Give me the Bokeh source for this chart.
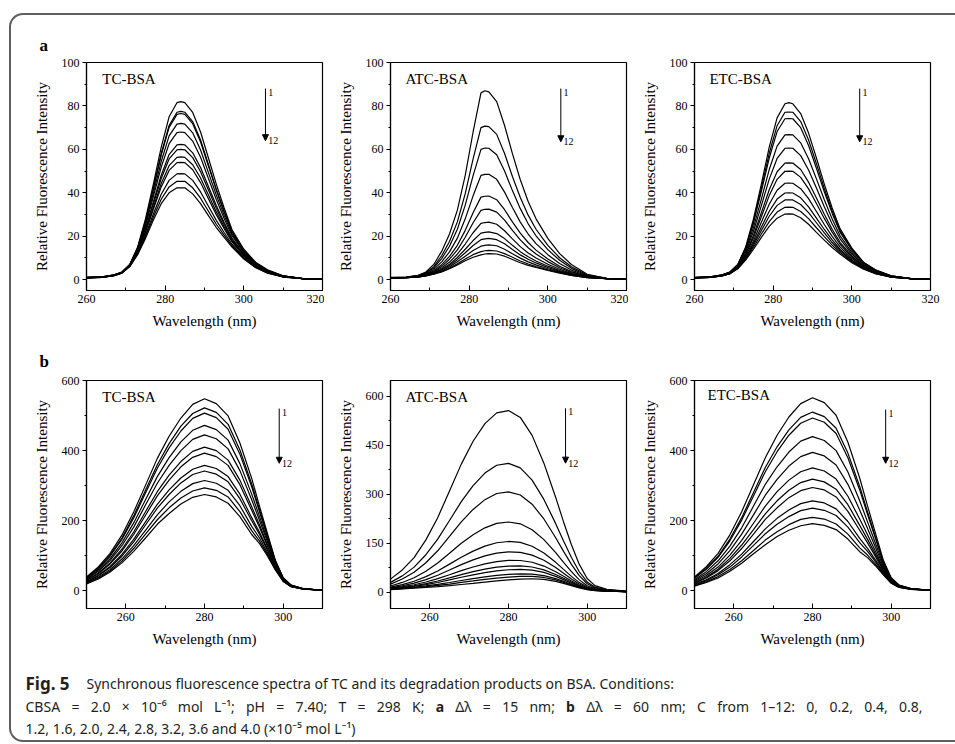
from bokeh.plotting import figure
from bokeh.models import Range1d, FixedTicker, Label, Arrow, NormalHead
from bokeh.layouts import row, column
from bokeh.embed import file_html
from bokeh.resources import INLINE
from bokeh.core.properties import value

# ---------------- data ----------------
WL_A = [260, 264, 267, 269, 271, 273, 275, 277, 279, 281, 283, 284, 285, 287, 289,
        291, 293, 295, 297, 300, 303, 306, 310, 315, 320]
WL_B = [250, 253, 256, 259, 262, 265, 268, 271, 274, 277, 280, 283, 286, 289, 292,
        294, 296, 298, 300, 302, 305, 310]

TC_A = [
    [1.0, 1.3, 2.2, 3.5, 7.0, 15.0, 28.0, 44.0, 61.0, 75.0, 81.5, 82.0, 81.5, 77.0, 68.0, 56.0, 44.0, 33.0, 23.0, 14.0, 8.0, 4.5, 1.8, 0.5, 0.3],
    [1.0, 1.3, 2.2, 3.4, 6.9, 14.6, 27.0, 42.1, 58.1, 71.0, 77.1, 77.5, 77.1, 72.8, 64.3, 53.0, 41.7, 31.5, 22.1, 13.5, 7.7, 4.3, 1.7, 0.5, 0.3],
    [1.0, 1.3, 2.1, 3.4, 6.9, 14.5, 26.7, 41.7, 57.4, 70.1, 76.1, 76.5, 76.1, 71.8, 63.4, 52.3, 41.2, 31.1, 21.9, 13.4, 7.7, 4.3, 1.7, 0.5, 0.3],
    [0.95, 1.2, 2.1, 3.4, 6.7, 14.1, 25.7, 39.8, 54.4, 66.2, 71.6, 72.0, 71.6, 67.6, 59.7, 49.3, 39.0, 29.6, 21.0, 12.9, 7.4, 4.1, 1.6, 0.5, 0.3],
    [0.9, 1.2, 2.1, 3.3, 6.6, 13.8, 24.8, 38.2, 51.8, 62.6, 67.7, 68.0, 67.7, 63.8, 56.4, 46.6, 36.9, 28.2, 20.2, 12.4, 7.1, 4.0, 1.6, 0.5, 0.3],
    [0.9, 1.15, 2.0, 3.25, 6.5, 13.3, 23.5, 35.8, 48.1, 57.6, 62.1, 62.3, 62.1, 58.4, 51.6, 42.9, 34.1, 26.3, 19.0, 11.8, 6.8, 3.8, 1.5, 0.45, 0.3],
    [0.9, 1.1, 2.0, 3.2, 6.4, 13.1, 23.0, 34.9, 46.6, 55.6, 59.8, 60.0, 59.8, 56.2, 49.7, 41.3, 32.9, 25.5, 18.6, 11.5, 6.6, 3.7, 1.5, 0.45, 0.3],
    [0.87, 1.1, 1.95, 3.2, 6.4, 12.8, 22.2, 33.4, 44.3, 52.5, 56.3, 56.5, 56.3, 52.9, 46.8, 39.0, 31.2, 24.3, 17.9, 11.1, 6.4, 3.5, 1.4, 0.4, 0.3],
    [0.86, 1.1, 1.9, 3.15, 6.3, 12.5, 21.7, 32.4, 42.7, 50.3, 53.9, 54.0, 53.9, 50.6, 44.7, 37.3, 29.9, 23.5, 17.4, 10.8, 6.2, 3.4, 1.4, 0.4, 0.3],
    [0.83, 1.05, 1.87, 3.1, 6.2, 12.1, 20.5, 30.2, 39.3, 45.7, 48.7, 48.8, 48.7, 45.7, 40.4, 33.8, 27.3, 21.7, 16.3, 10.2, 5.9, 3.2, 1.3, 0.4, 0.3],
    [0.8, 1.0, 1.8, 3.0, 6.1, 11.8, 19.7, 28.8, 37.0, 42.7, 45.3, 45.3, 45.3, 42.3, 37.5, 31.5, 25.5, 20.5, 15.6, 9.8, 5.7, 3.1, 1.25, 0.4, 0.3],
    [0.8, 1.0, 1.8, 3.0, 6.0, 11.5, 19.0, 27.5, 35.0, 40.0, 42.3, 42.3, 42.3, 39.5, 35.0, 29.5, 24.0, 19.5, 15.0, 9.5, 5.5, 3.0, 1.2, 0.4, 0.3],
]
ATC_A = [
    [1.0, 1.2, 2.0, 3.5, 7.0, 13.0, 21.0, 32.0, 48.0, 68.0, 86.0, 87.0, 86.5, 82.0, 71.0, 58.0, 46.0, 36.0, 28.0, 19.0, 12.0, 7.0, 2.5, 0.6, 0.3],
    [0.94, 1.14, 1.83, 3.1, 6.0, 11.0, 17.6, 26.6, 39.6, 55.6, 70.0, 70.7, 70.5, 66.9, 58.1, 47.5, 37.8, 29.7, 23.2, 15.8, 10.1, 5.9, 2.2, 0.55, 0.3],
    [0.9, 1.1, 1.7, 2.9, 5.4, 9.7, 15.4, 23.2, 34.3, 47.9, 60.0, 60.6, 60.5, 57.5, 50.0, 41.0, 32.7, 25.7, 20.2, 13.8, 8.9, 5.2, 1.9, 0.5, 0.3],
    [0.85, 1.05, 1.6, 2.6, 4.7, 8.2, 12.8, 19.1, 28.0, 38.6, 48.0, 48.5, 48.5, 46.2, 40.3, 33.2, 26.5, 21.0, 16.6, 11.5, 7.4, 4.4, 1.7, 0.5, 0.3],
    [0.8, 1.0, 1.5, 2.3, 4.1, 6.9, 10.7, 15.8, 22.7, 30.8, 38.0, 38.4, 38.5, 36.8, 32.2, 26.6, 21.4, 17.1, 13.6, 9.5, 6.2, 3.7, 1.5, 0.45, 0.3],
    [0.78, 0.98, 1.4, 2.2, 3.7, 6.1, 9.4, 13.7, 19.5, 26.2, 31.9, 32.4, 32.5, 31.1, 27.4, 22.7, 18.3, 14.7, 11.8, 8.3, 5.5, 3.3, 1.3, 0.45, 0.3],
    [0.76, 0.96, 1.35, 2.05, 3.4, 5.4, 8.1, 11.7, 16.4, 21.6, 25.9, 26.3, 26.5, 25.5, 22.5, 18.8, 15.2, 12.3, 10.0, 7.1, 4.8, 2.9, 1.2, 0.4, 0.3],
    [0.74, 0.94, 1.3, 1.95, 3.1, 4.8, 7.1, 10.2, 14.0, 18.0, 21.4, 21.8, 22.0, 21.2, 18.9, 15.8, 12.9, 10.5, 8.6, 6.2, 4.2, 2.6, 1.1, 0.4, 0.3],
    [0.73, 0.93, 1.28, 1.87, 2.9, 4.4, 6.5, 9.2, 12.4, 15.7, 18.4, 18.8, 19.0, 18.4, 16.5, 13.9, 11.4, 9.4, 7.7, 5.6, 3.8, 2.4, 1.05, 0.4, 0.3],
    [0.72, 0.92, 1.24, 1.8, 2.74, 4.0, 5.9, 8.2, 10.8, 13.4, 15.4, 15.8, 16.0, 15.6, 14.0, 11.9, 9.9, 8.2, 6.8, 5.0, 3.5, 2.2, 1.0, 0.4, 0.3],
    [0.7, 0.9, 1.22, 1.74, 2.6, 3.7, 5.3, 7.3, 9.5, 11.5, 12.9, 13.3, 13.5, 13.2, 12.0, 10.3, 8.6, 7.2, 6.0, 4.5, 3.2, 2.0, 0.93, 0.4, 0.3],
    [0.7, 0.9, 1.2, 1.7, 2.5, 3.5, 5.0, 6.8, 8.7, 10.3, 11.4, 11.8, 12.0, 11.8, 10.8, 9.3, 7.8, 6.6, 5.6, 4.2, 3.0, 1.9, 0.9, 0.4, 0.3],
]
ETC_A = [
    [1.0, 1.3, 2.2, 3.5, 7.0, 15.0, 28.0, 44.0, 61.0, 74.5, 81.0, 81.5, 81.0, 76.5, 67.5, 56.0, 44.0, 33.0, 23.5, 14.5, 8.0, 4.5, 1.8, 0.5, 0.3],
    [0.98, 1.28, 2.16, 3.44, 6.85, 14.5, 26.9, 42.1, 58.2, 70.9, 77.1, 77.2, 77.1, 72.8, 64.3, 53.4, 42.0, 31.6, 22.6, 14.0, 7.8, 4.4, 1.75, 0.5, 0.3],
    [0.97, 1.26, 2.13, 3.4, 6.7, 14.2, 26.1, 40.7, 56.0, 68.2, 74.1, 74.2, 74.1, 70.0, 61.8, 51.3, 40.5, 30.5, 21.9, 13.6, 7.6, 4.3, 1.7, 0.5, 0.3],
    [0.94, 1.22, 2.06, 3.28, 6.44, 13.3, 24.1, 37.1, 50.7, 61.5, 66.7, 66.8, 66.7, 63.0, 55.7, 46.4, 36.8, 27.9, 20.2, 12.6, 7.1, 4.0, 1.6, 0.47, 0.3],
    [0.92, 1.18, 2.0, 3.18, 6.2, 12.6, 22.3, 34.1, 46.3, 55.8, 60.5, 60.6, 60.5, 57.1, 50.5, 42.2, 33.6, 25.6, 18.8, 11.8, 6.7, 3.8, 1.5, 0.46, 0.3],
    [0.9, 1.14, 1.93, 3.07, 5.9, 11.8, 20.5, 30.8, 41.4, 49.7, 53.7, 53.8, 53.7, 50.7, 44.9, 37.6, 30.1, 23.2, 17.2, 10.9, 6.3, 3.5, 1.4, 0.45, 0.3],
    [0.88, 1.12, 1.9, 3.0, 5.8, 11.3, 19.4, 29.0, 38.7, 46.2, 49.9, 50.0, 49.9, 47.1, 41.8, 35.1, 28.2, 21.9, 16.3, 10.4, 6.0, 3.4, 1.4, 0.44, 0.3],
    [0.86, 1.08, 1.84, 2.9, 5.6, 10.7, 17.9, 26.4, 34.7, 41.2, 44.4, 44.5, 44.4, 41.9, 37.3, 31.4, 25.4, 19.9, 15.1, 9.7, 5.7, 3.2, 1.3, 0.43, 0.3],
    [0.84, 1.06, 1.8, 2.85, 5.4, 10.1, 16.7, 24.2, 31.5, 37.1, 39.9, 40.0, 39.9, 37.7, 33.5, 28.3, 23.1, 18.3, 14.0, 9.1, 5.4, 3.0, 1.2, 0.42, 0.3],
    [0.83, 1.04, 1.76, 2.8, 5.3, 9.8, 15.8, 22.6, 29.2, 34.2, 36.7, 36.8, 36.7, 34.6, 30.9, 26.2, 21.5, 17.1, 13.3, 8.7, 5.2, 2.9, 1.2, 0.41, 0.3],
    [0.81, 1.02, 1.73, 2.75, 5.1, 9.4, 14.9, 21.0, 26.7, 31.1, 33.3, 33.4, 33.3, 31.4, 28.1, 23.9, 19.8, 15.9, 12.5, 8.2, 5.0, 2.8, 1.15, 0.4, 0.3],
    [0.8, 1.0, 1.7, 2.7, 5.0, 9.0, 14.0, 19.5, 24.5, 28.3, 30.2, 30.3, 30.2, 28.5, 25.5, 21.8, 18.2, 14.8, 11.8, 7.8, 4.8, 2.7, 1.1, 0.4, 0.3],
]
TC_B = [
    [40, 68.5, 107, 159, 225, 301, 378, 441, 493, 532, 548, 534, 499, 422, 321, 241, 164, 88, 38, 17, 7, 2],
    [38, 65, 102, 151, 214, 287, 360, 420, 470, 506, 522, 509, 475, 402, 305, 231, 158, 86, 37, 16.5, 6.9, 2],
    [37, 63, 99, 147, 208, 279, 350, 408, 456, 492, 507, 494, 461, 390, 297, 225, 154, 84, 36, 16, 6.8, 2],
    [34, 59, 92, 137, 194, 260, 326, 380, 425, 458, 472, 460, 430, 363, 276, 212, 146, 81, 35, 15.5, 6.6, 2],
    [32.5, 56, 87, 129, 182, 245, 307, 358, 400, 432, 445, 434, 405, 343, 260, 201, 140, 78, 34, 15, 6.4, 2],
    [30, 51, 80, 119, 168, 226, 283, 330, 369, 398, 410, 400, 373, 316, 240, 188, 132, 74, 32, 14.3, 6.2, 2],
    [29, 49, 77, 114, 161, 216, 271, 316, 354, 381, 393, 383, 358, 303, 230, 181, 128, 72, 31, 14, 6.1, 2],
    [26, 45, 70, 104, 147, 197, 247, 288, 322, 347, 358, 349, 326, 276, 209, 167, 120, 69, 30, 13.5, 5.9, 2],
    [25, 43, 67, 99, 140, 188, 236, 275, 308, 332, 342, 333, 311, 263, 200, 161, 116, 67, 29.5, 13.2, 5.8, 2],
    [23, 39, 61, 91, 129, 173, 217, 254, 284, 306, 315, 307, 287, 243, 184, 151, 109, 64, 28.5, 12.8, 5.6, 2],
    [21.5, 37, 57, 85, 121, 162, 203, 237, 265, 285, 294, 287, 268, 226, 172, 142, 104.5, 62, 27.7, 12.5, 5.5, 2],
    [20, 34, 54, 80, 113, 151, 190, 221, 248, 267, 275, 268, 250, 212, 161, 135, 100, 60, 27, 12.2, 5.4, 2],
]
ATC_B = [
    [40, 68, 106, 160, 228, 310, 392, 462, 516, 549, 556, 535, 480, 395, 290, 215, 145, 85, 42, 20, 9, 3],
    [30, 49.9, 76.7, 114.6, 162.2, 219.5, 277, 326.3, 364.7, 388.5, 394.2, 380.6, 343, 284, 209.8, 156.3, 106, 62.5, 31.4, 15.3, 7.1, 2.5],
    [24.6, 40.2, 60.9, 90.2, 126.7, 170.8, 215.1, 253.2, 283.2, 302, 307.1, 297.4, 269.3, 224.1, 166.6, 124.8, 85, 50.4, 25.7, 12.8, 6.1, 2.3],
    [18.9, 29.8, 44.1, 64.3, 89.2, 119.2, 149.5, 175.8, 196.9, 210.5, 214.8, 209.3, 191.1, 160.8, 120.9, 91.3, 62.8, 37.6, 19.6, 10.1, 5.1, 2],
    [15.3, 23.2, 33.3, 47.5, 64.9, 85.8, 107.1, 125.7, 141.1, 151.3, 155.2, 152.4, 140.7, 119.8, 91.3, 69.7, 48.4, 29.3, 15.7, 8.4, 4.4, 1.8],
    [13.3, 19.6, 27.5, 38.5, 51.8, 67.9, 84.3, 98.8, 111, 119.4, 123.1, 121.7, 113.4, 97.7, 75.4, 58, 40.6, 24.9, 13.6, 7.5, 4, 1.75],
    [11.7, 16.7, 22.8, 31.2, 41.3, 53.4, 65.9, 77, 86.8, 93.7, 97.1, 96.9, 91.5, 79.9, 62.6, 48.6, 34.4, 21.3, 11.9, 6.7, 3.7, 1.7],
    [10.6, 14.8, 19.7, 26.4, 34.3, 43.8, 53.7, 62.7, 70.8, 76.7, 80, 80.6, 77, 68.2, 54.1, 42.4, 30.3, 18.9, 10.8, 6.2, 3.5, 1.6],
    [9.9, 13.5, 17.6, 23.2, 29.7, 37.4, 45.6, 53.1, 60.1, 65.4, 68.6, 69.7, 67.3, 60.4, 48.4, 38.3, 27.5, 17.3, 10, 5.9, 3.4, 1.6],
    [9.1, 11.9, 15.1, 19.3, 24, 29.6, 35.7, 41.4, 47, 51.5, 54.6, 56.3, 55.5, 50.7, 41.5, 33.2, 24.1, 15.4, 9.1, 5.5, 3.2, 1.55],
    [8.5, 11, 13.6, 17, 20.6, 24.9, 29.8, 34.4, 39.2, 43.2, 46.3, 48.4, 48.5, 45, 37.4, 30.2, 22.1, 14.2, 8.6, 5.3, 3.1, 1.5],
    [8, 10, 12, 14.5, 17, 20, 23.5, 27, 31, 34.5, 37.5, 40, 41, 39, 33, 27, 20, 13, 8, 5, 3, 1.5],
]
ETC_B = [
    [40, 69, 107, 160, 226, 303, 380, 444, 496, 534, 551, 537, 501, 424, 322, 242, 165, 88, 38, 17, 7, 2],
    [37, 64, 99, 148, 209, 281, 352, 411, 459, 495, 510, 497, 464, 393, 298, 225, 154, 83, 36, 16, 6.8, 2],
    [36, 62, 96, 143, 202, 271, 340, 397, 444, 478, 493, 481, 449, 380, 288, 218, 150, 81, 35.5, 15.7, 6.7, 2],
    [32, 55, 86, 128, 180, 242, 304, 354, 396, 427, 440, 429, 400, 339, 257, 197, 136, 75, 33, 14.8, 6.3, 2],
    [29, 49, 77, 115, 162, 217, 273, 318, 356, 383, 395, 385, 359, 304, 231, 178, 124.5, 70, 31, 14, 6, 2],
    [26, 44, 68, 102, 144, 193, 242, 283, 316, 340, 351, 342, 319, 270, 205, 160, 113, 65, 29, 13.2, 5.7, 2],
    [23, 40, 62, 93, 131, 175, 220, 257, 287, 309, 319, 311, 290, 246, 187, 147, 105, 61, 27.7, 12.6, 5.5, 2],
    [21.5, 37, 58, 86, 121, 162, 204, 237, 266, 286, 295, 288, 268, 227, 173, 137, 98.7, 58, 26.6, 12.1, 5.3, 2],
    [19, 32, 50, 75, 105, 141, 177, 207, 231, 249, 257, 251, 234, 198, 150, 121.6, 88.8, 53.5, 25, 11.4, 5.1, 2],
    [17, 29.5, 46, 68, 97, 130, 163, 190, 212, 229, 236, 230, 215, 182, 138, 113, 83.4, 51, 24, 11, 5, 2],
    [15, 26, 41, 61, 86, 115.5, 145, 169, 189, 204, 210, 205, 191, 162, 123, 102.4, 76.7, 48, 23, 10.5, 4.8, 2],
    [14, 24, 37, 56, 79, 106, 132, 155, 173, 186, 192, 187, 175, 148, 112, 95, 72, 46, 22, 10.2, 4.7, 2],
]

NAMES = ["TC-BSA", "ATC-BSA", "ETC-BSA"]
X_TICKS_A = [260, 280, 300, 320]
X_MINOR_A = [270, 290, 310]
X_TICKS_B = [260, 280, 300]
X_MINOR_B = [250, 270, 290, 310]
Y_TICKS_A = [0, 20, 40, 60, 80, 100]
Y_MINOR_A = [10, 30, 50, 70, 90]
Y_TICKS_B = [0, 200, 400, 600]
Y_MINOR_B = [100, 300, 500]
Y_TICKS_B2 = [0, 150, 300, 450, 600]
Y_MINOR_B2 = [75, 225, 375, 525]

CAP_FIG = "Fig. 5"
CAP_LINE1 = "Synchronous fluorescence spectra of TC and its degradation products on BSA. Conditions:"
CAP_LINE2 = ("CBSA = 2.0 \u00d7 10\u207b\u2076 mol L\u207b\u00b9; pH = 7.40; T = 298 K; a \u0394\u03bb = 15 nm; "
             "b \u0394\u03bb = 60 nm; C from 1\u201312: 0, 0.2, 0.4, 0.8,")
CAP_LINE2_BOLD = ["a", "b"]
CAP_LINE3 = "1.2, 1.6, 2.0, 2.4, 2.8, 3.2, 3.6 and 4.0 (\u00d710\u207b\u2075 mol L\u207b\u00b9)"

SERIF = "Liberation Serif"
SANS = "Noto Sans"

# approximate advance widths of Noto Sans (per 1000 em), used to justify caption line 2
ADV = {" ": 260, ".": 268, ",": 268, ";": 268, ":": 268, "=": 572, "\u00d7": 572,
       "\u2013": 500, "C": 632, "B": 653, "S": 549, "A": 639, "L": 524, "H": 754, "T": 556,
       "K": 622, "m": 925, "o": 602, "l": 258, "p": 613, "n": 618, "f": 344, "r": 408,
       "\u0394": 617, "\u03bb": 546, "\u207b": 319, "\u00b9": 360, "\u2076": 360, "a": 587, "b": 638}


def text_width(s, size):
    return sum(ADV.get(ch, 572) for ch in s) * size / 1000.0


def panel(wl, curves, name, xr, yr, xt, xm, yt, ym, w, h, bl, br, bt, bb,
          name_xy, arrow, letter=None, letter_standoff=14):
    p = figure(width=w, height=h, x_range=Range1d(*xr), y_range=Range1d(*yr),
               output_backend="svg", toolbar_location=None,
               min_border_left=bl, min_border_right=br,
               min_border_top=bt, min_border_bottom=bb)
    p.grid.visible = False
    p.outline_line_color = "black"
    p.outline_line_width = 1.2
    p.outline_line_alpha = 1.0
    p.background_fill_color = None
    p.border_fill_color = None

    p.xaxis.ticker = FixedTicker(ticks=xt, minor_ticks=xm)
    p.yaxis.ticker = FixedTicker(ticks=yt, minor_ticks=ym)
    for ax in p.xaxis:
        ax.major_tick_in = 5
        ax.major_tick_out = 0
        ax.minor_tick_in = 3
        ax.minor_tick_out = 0
        ax.axis_label = "Wavelength (nm)"
        ax.axis_label_standoff = 7
        ax.major_label_standoff = 4
    for ax in p.yaxis:
        ax.major_tick_in = 0
        ax.major_tick_out = 4
        ax.minor_tick_in = 0
        ax.minor_tick_out = 2
        ax.axis_label = "Relative Fluorescence Intensity"
        ax.axis_label_standoff = 9
        ax.major_label_standoff = 3
    for ax in list(p.xaxis) + list(p.yaxis):
        ax.axis_line_color = "black"
        ax.axis_line_width = 1.2
        ax.major_tick_line_color = "black"
        ax.minor_tick_line_color = "black"
        ax.major_label_text_font = SERIF
        ax.major_label_text_font_size = "12px"
        ax.major_label_text_color = "black"
        ax.axis_label_text_font = SERIF
        ax.axis_label_text_font_size = "15px"
        ax.axis_label_text_font_style = "normal"
        ax.axis_label_text_color = "black"

    for c in curves:
        p.line(wl, c, line_color="black", line_width=1.2)

    p.add_layout(Label(x=name_xy[0], y=name_xy[1], text=name, text_font=SERIF,
                       text_font_size="15px", text_baseline="middle", text_color="black"))
    ax_x, y1, y2, dx = arrow
    p.add_layout(Arrow(end=NormalHead(size=6, fill_color="black", line_color="black"),
                       x_start=ax_x, y_start=y1, x_end=ax_x, y_end=y2,
                       line_color="black", line_width=1))
    p.add_layout(Label(x=ax_x + dx, y=y1, text="1", text_font=SERIF,
                       text_font_size="10px", text_baseline="top", text_color="black"))
    p.add_layout(Label(x=ax_x + dx, y=y2, text="12", text_font=SERIF,
                       text_font_size="10px", text_baseline="middle", text_color="black"))
    if letter is not None:
        p.title.text = letter
        p.title.align = "left"
        p.title.offset = -47
        p.title.standoff = letter_standoff
        p.title.text_font = SERIF
        p.title.text_font_size = "17px"
        p.title.text_font_style = "bold"
        p.title.text_color = "black"
    return p


HA, HB = 325, 313
COLS = [(313, 75, 2), (304, 66, 2), (327, 66, 25)]

fa1 = panel(WL_A, TC_A, NAMES[0], (260, 320), (-5, 100), X_TICKS_A, X_MINOR_A, Y_TICKS_A, Y_MINOR_A,
            COLS[0][0], HA, COLS[0][1], COLS[0][2], 47, 50, (264.0, 92.5), (305.5, 88, 64, 0.7),
            letter="a", letter_standoff=16)
fa2 = panel(WL_A, ATC_A, NAMES[1], (260, 320), (-5, 100), X_TICKS_A, X_MINOR_A, Y_TICKS_A, Y_MINOR_A,
            COLS[1][0], HA, COLS[1][1], COLS[1][2], 47, 50, (263.8, 92.5), (303.3, 88, 63.5, 0.7))
fa3 = panel(WL_A, ETC_A, NAMES[2], (260, 320), (-5, 100), X_TICKS_A, X_MINOR_A, Y_TICKS_A, Y_MINOR_A,
            COLS[2][0], HA, COLS[2][1], COLS[2][2], 47, 50, (263.8, 92.5), (302.0, 88, 63.5, 0.7))

fb1 = panel(WL_B, TC_B, NAMES[0], (250, 310), (-50, 600), X_TICKS_B, X_MINOR_B, Y_TICKS_B, Y_MINOR_B,
            COLS[0][0], HB, COLS[0][1], COLS[0][2], 40, 45, (254.0, 554), (299.0, 520, 364, 0.7),
            letter="b", letter_standoff=19)
fb2 = panel(WL_B, ATC_B, NAMES[1], (250, 310), (-50, 648), X_TICKS_B, X_MINOR_B, Y_TICKS_B2, Y_MINOR_B2,
            COLS[1][0], HB, COLS[1][1], COLS[1][2], 40, 45, (253.8, 598), (294.5, 563, 395, 0.7))
fb3 = panel(WL_B, ETC_B, NAMES[2], (250, 310), (-50, 600), X_TICKS_B, X_MINOR_B, Y_TICKS_B, Y_MINOR_B,
            COLS[2][0], HB, COLS[2][1], COLS[2][2], 40, 45, (253.3, 560), (298.6, 517, 364, 0.7))

# ---------------- caption ----------------
CAP_H = 87
cap = figure(width=944, height=CAP_H, x_range=Range1d(0, 944), y_range=Range1d(CAP_H, 0),
             x_axis_type=None, y_axis_type=None, output_backend="svg",
             toolbar_location=None, min_border=0, outline_line_color=None)
cap.grid.visible = False
cap.background_fill_color = None
cap.border_fill_color = None

FS = 14
X0, X1 = 14, 911          # left edge and right edge of the justified line (figure coords)
Y1, Y2, Y3 = 30, 53, 75   # line centres (figure coords)
CAP_COLOR = "#231f20"

cap.text(x=[X0], y=[Y1], text=[CAP_FIG], text_font=value(SANS), text_font_size="17px",
         text_font_style="bold", text_baseline="middle", text_color=CAP_COLOR)
cap.text(x=[X0 + 61], y=[Y1], text=[CAP_LINE1], text_font=value(SANS), text_font_size="%dpx" % FS,
         text_baseline="middle", text_color=CAP_COLOR)

words = CAP_LINE2.split(" ")
widths = [text_width(wd, FS) for wd in words]
gap = (X1 - X0 - sum(widths)) / (len(words) - 1)
xs, pos = [], X0
for wdt in widths:
    xs.append(pos)
    pos += wdt + gap
is_bold = [wd in CAP_LINE2_BOLD for wd in words]
cap.text(x=[x for x, b in zip(xs, is_bold) if b], y=[Y2] * sum(is_bold),
         text=[wd for wd, b in zip(words, is_bold) if b], text_font=value(SANS),
         text_font_size="%dpx" % FS, text_font_style="bold", text_baseline="middle",
         text_color=CAP_COLOR)
cap.text(x=[x for x, b in zip(xs, is_bold) if not b], y=[Y2] * (len(words) - sum(is_bold)),
         text=[wd for wd, b in zip(words, is_bold) if not b], text_font=value(SANS),
         text_font_size="%dpx" % FS, text_baseline="middle", text_color=CAP_COLOR)
cap.text(x=[X0], y=[Y3], text=[CAP_LINE3], text_font=value(SANS), text_font_size="%dpx" % FS,
         text_baseline="middle", text_color=CAP_COLOR)

layout = column(row(fa1, fa2, fa3), row(fb1, fb2, fb3), cap,
                margin=(13, 0, 0, 9),
                styles={"border": "2px solid #5f5f5f", "border-right": "none",
                        "border-radius": "14px 0 0 14px"})

open("out.html", "w").write(file_html(layout, INLINE))
